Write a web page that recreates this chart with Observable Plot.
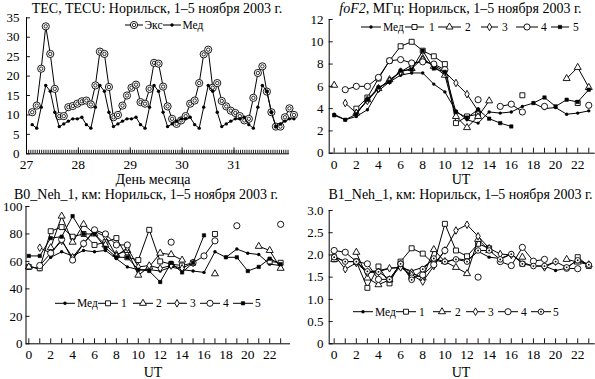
<!DOCTYPE html>
<html><head><meta charset="utf-8">
<script src="https://cdn.jsdelivr.net/npm/d3@7"></script>
<script src="https://cdn.jsdelivr.net/npm/@observablehq/plot@0.6"></script>
<style>
body{margin:0;background:#fff;}
#root{position:relative;width:595px;height:379px;overflow:hidden;background:#fff;}
#root svg{position:absolute;}
</style></head><body><div id="root"></div>
<script>
// ---------- DATA ----------
// TEC panel: 2-hour samples, starting day 27.11
const tecStart = 27.11, tecStep = 0.087;
const tecExc = [10.7,12.4,21.9,32.8,25.7,16.7,9.7,9.7,12.0,12.3,12.9,13.5,13.7,12.7,17.6,26.3,25.7,17.2,9.4,10.0,12.4,15.0,17.0,17.8,13.3,12.9,16.7,23.4,23.2,17.3,12.2,9.0,7.7,8.6,9.7,12.9,13.7,18.2,25.6,26.8,17.0,18.2,13.6,12.2,11.1,10.5,9.7,8.6,9.0,14.4,20.8,22.5,16.0,10.7,7.0,7.0,9.4,11.7,10.0];
const tecMed = [7.5,6.6,12.0,17.6,16.1,10.7,7.0,7.7,8.4,9.0,9.0,9.4,
                7.5,6.6,12.0,17.6,16.1,10.7,7.0,7.7,8.4,9.0,9.0,9.4,
                7.5,6.6,12.0,17.6,16.1,10.7,7.0,7.7,8.4,9.0,9.0,9.4,
                7.5,6.6,12.0,17.6,16.1,10.7,7.0,7.7,8.4,9.0,9.0,9.4,
                7.5,6.6,12.0,17.6,16.1,10.7,7.0,7.7,8.4,9.0,9.0];
const tecDayTicks = [27,28,29,30,31];
const tecYTicks = [0,5,10,15,20,25,30,35];

// UT hours
const utHours = [0,1,2,3,4,5,6,7,8,9,10,11,12,13,14,15,16,17,18,19,20,21,22,23];
const utLabels = [0,2,4,6,8,10,12,14,16,18,20,22];

// foF2, MHz
const fofMed = [3.5,3.0,3.3,3.9,5.6,6.4,7.0,7.2,7.2,6.2,5.5,3.8,3.0,2.7,3.7,3.6,3.7,4.2,4.5,4.0,4.1,3.5,3.6,3.8];
const fof1 = [null,null,4.0,5.0,6.7,8.3,9.6,10.0,9.2,8.7,8.0,2.7,3.3,3.5,null,null,null,5.2,null,null,null,null,4.5,null];
const fof2 = [6.1,null,3.6,4.8,5.8,6.6,7.3,7.6,8.5,7.8,7.0,3.3,2.3,3.3,4.7,null,null,null,null,null,null,6.7,7.7,5.9];
const fof3 = [null,4.5,3.6,4.7,5.8,6.5,7.3,7.9,8.4,7.9,7.3,6.3,5.3,3.8,null,null,null,null,null,null,null,null,null,null];
const fof4 = [null,5.7,6.0,6.0,6.8,8.3,8.4,8.1,8.2,8.0,7.5,null,null,4.8,null,4.2,4.4,3.7,null,4.2,null,null,null,4.3];
const fof5 = [3.4,3.0,3.5,4.8,5.9,6.4,7.4,7.5,9.2,7.6,7.3,3.7,3.2,3.9,3.1,2.7,2.4,null,4.5,5.0,4.2,4.8,4.6,5.7];
const fofYTicks = [0,2,4,6,8,10,12];

// B0_Neh_1, km
const b0Med = [57,54,63,67,64,68,67,68,62,56,54,54,53,56,54,53,52,67,63,69,66,65,58,57];
const b01 = [56,55,82,85,78,80,72,74,77,63,61,83,60,58,57,59,null,80,null,null,null,null,60,59];
const b02 = [56,null,70,93,74,87,80,72,65,68,50,56,66,65,61,null,null,51,null,null,null,71,68,55];
const b03 = [null,70,66,75,63,73,82,78,64,70,56,57,55,57,55,59,null,null,null,null,null,null,null,null];
const b04 = [null,57,66,76,61,73,83,80,72,72,null,null,null,74,null,59,64,75,null,86,null,null,null,87];
const b05 = [64,64,77,78,93,80,80,70,63,63,54,53,45,59,52,59,79,null,63,63,53,56,62,58];
const b0YTicks = [0,20,40,60,80,100];

// B1_Neh_1
const b1Med = [1.97,1.85,1.85,1.62,1.65,1.70,1.72,1.64,1.72,1.90,1.82,1.92,1.88,2.08,1.95,1.92,2.02,1.83,1.75,1.75,1.65,1.70,1.90,1.78];
const b11 = [1.90,null,1.85,1.26,1.74,1.36,1.85,2.15,2.03,1.80,2.70,2.10,1.97,2.25,2.15,null,null,1.80,null,null,null,null,1.95,1.75];
const b12 = [1.90,null,2.06,1.48,1.33,1.44,1.75,1.60,1.48,2.12,1.85,1.72,1.58,2.35,2.10,null,null,1.95,null,null,null,1.90,1.84,1.78];
const b13 = [2.00,1.68,1.82,1.60,1.62,1.70,1.72,1.55,1.40,1.75,2.10,2.55,2.68,2.42,2.15,2.02,2.00,null,null,1.72,1.85,null,null,null];
const b14 = [2.10,2.06,1.85,1.80,1.45,1.45,1.80,1.48,1.55,1.78,2.10,null,null,1.50,null,1.85,1.76,2.17,1.86,1.90,null,1.70,1.69,null];
const b15 = [1.95,1.85,1.85,1.63,1.62,1.45,1.80,1.44,1.68,1.92,1.85,1.90,1.85,2.10,2.10,1.90,2.02,1.80,1.75,1.75,1.85,1.72,1.88,1.78];
const b1YTicks = [0,0.5,1.0,1.5,2.0,2.5,3.0];

// ---------- STYLE ----------
const FONT = '"Liberation Serif", "Times New Roman", serif';
const SYMS = {
  med:  {parts:[{symbol:"circle", r:1.7, fill:"black", stroke:"none"}]},
  sq:   {parts:[{symbol:"square", r:2.8, fill:"white", stroke:"black", sw:0.9}]},
  tri:  {parts:[{symbol:"triangle", r:2.6, fill:"white", stroke:"black", sw:0.9}]},
  dia:  {parts:[{symbol:"diamond", r:2.3, fill:"white", stroke:"black", sw:0.9}]},
  cir:  {parts:[{symbol:"circle", r:3.1, fill:"white", stroke:"black", sw:0.9}]},
  fsq:  {parts:[{symbol:"square", r:1.9, fill:"black", stroke:"black", sw:0.6}]},
  cdot: {parts:[{symbol:"circle", r:2.8, fill:"white", stroke:"black", sw:0.9},{symbol:"circle", r:0.9, fill:"black", stroke:"none"}]},
  exc:  {parts:[{symbol:"circle", r:3.6, fill:"white", stroke:"black", sw:0.9},{symbol:"circle", r:1.7, fill:"none", stroke:"black", sw:0.8}]}
};
const d3sym = {circle:d3.symbolCircle, square:d3.symbolSquare, triangle:d3.symbolTriangle, diamond:d3.symbolDiamond};

function seriesMarks(xs, ys, sym) {
  const data = xs.map((x,i)=>({x, y: ys[i]}));
  const marks = [Plot.line(data, {x:"x", y:"y", stroke:"black", strokeWidth:1})];
  for (const p of SYMS[sym].parts) {
    marks.push(Plot.dot(data.filter(d=>d.y!=null), {x:"x", y:"y", symbol:p.symbol, r:p.r, fill:p.fill, stroke:p.stroke, strokeWidth:p.sw||1}));
  }
  return marks;
}

const root = document.getElementById("root");

function panel(cfg) {
  const {left, top, width, height, ml, mr, mt, mb, xdom, ydom} = cfg;
  const pw = width - ml - mr, ph = height - mt - mb;
  const marks = [];
  for (const s of cfg.series) marks.push(...seriesMarks(s.xs, s.ys, s.sym));
  marks.push(Plot.ruleX([xdom[0]], {stroke:"black", strokeWidth:1}));
  marks.push(Plot.ruleY([ydom[0]], {stroke:"black", strokeWidth:1}));
  marks.push(Plot.tickX(cfg.xMinor, {x:d=>d, stroke:"black", strokeWidth:0.9, insetTop: ph - cfg.minorLen}));
  marks.push(Plot.tickX(cfg.xMajor, {x:d=>d, stroke:"black", strokeWidth:0.9, insetTop: ph - cfg.majorLen}));
  marks.push(Plot.tickY(cfg.yTicks, {y:d=>d, stroke:"black", strokeWidth:0.9, insetRight: pw - 4}));
  marks.push(Plot.axisX(cfg.xLabels, {tickSize:0, tickPadding:cfg.xpad, tickFormat:cfg.xFmt||(d=>String(d)), fontSize:13.5, label:null}));
  marks.push(Plot.axisY(cfg.yTicks, {tickSize:0, tickPadding:cfg.ypad, tickFormat:cfg.yFmt||(d=>String(d)), fontSize:13, label:null}));
  const svg = Plot.plot({
    width, height, marginLeft:ml, marginRight:mr, marginTop:mt, marginBottom:mb,
    x:{domain:xdom}, y:{domain:ydom},
    style:{fontFamily:FONT, fontSize:"13.5px", background:"none", overflow:"visible", color:"black"},
    marks
  });
  svg.style.left = left + "px";
  svg.style.top = top + "px";
  root.appendChild(svg);
}

const tecX = tecExc.map((_,i)=> tecStart + i*tecStep);
const tecMinor = d3.range(27, 32.07, 1/24);

panel({left:0, top:0, width:298, height:190, ml:26, mr:9, mt:17.3, mb:36.7,
  xdom:[27,32.07], ydom:[0,35],
  series:[{xs:tecX, ys:tecExc, sym:"exc"},{xs:tecX, ys:tecMed, sym:"med"}],
  xMinor:tecMinor, xMajor:tecDayTicks, minorLen:3.5, majorLen:6,
  yTicks:tecYTicks, xLabels:tecDayTicks, xpad:5.5, ypad:7});

panel({left:298, top:0, width:297, height:190, ml:30.7, mr:0.3, mt:19, mb:37.3,
  xdom:[-0.45,23.58], ydom:[0,12],
  series:[{xs:utHours,ys:fofMed,sym:"med"},{xs:utHours,ys:fof1,sym:"sq"},{xs:utHours,ys:fof2,sym:"tri"},
          {xs:utHours,ys:fof3,sym:"dia"},{xs:utHours,ys:fof4,sym:"cir"},{xs:utHours,ys:fof5,sym:"fsq"}],
  xMinor:utHours, xMajor:[], minorLen:5, majorLen:5,
  yTicks:fofYTicks, xLabels:utLabels, xpad:6, ypad:5.7});

panel({left:0, top:190, width:298, height:189, ml:25.5, mr:8, mt:16, mb:35.7,
  xdom:[-0.256,23.9], ydom:[0,100],
  series:[{xs:utHours,ys:b0Med,sym:"med"},{xs:utHours,ys:b01,sym:"sq"},{xs:utHours,ys:b02,sym:"tri"},
          {xs:utHours,ys:b03,sym:"dia"},{xs:utHours,ys:b04,sym:"cir"},{xs:utHours,ys:b05,sym:"fsq"}],
  xMinor:utHours, xMajor:[], minorLen:5, majorLen:5,
  yTicks:b0YTicks, xLabels:utLabels, xpad:5.5, ypad:3.5});

panel({left:298, top:190, width:297, height:189, ml:30.7, mr:0.3, mt:20, mb:35.7,
  xdom:[-0.45,23.58], ydom:[0,3],
  series:[{xs:utHours,ys:b1Med,sym:"med"},{xs:utHours,ys:b11,sym:"sq"},{xs:utHours,ys:b12,sym:"tri"},
          {xs:utHours,ys:b13,sym:"dia"},{xs:utHours,ys:b14,sym:"cir"},{xs:utHours,ys:b15,sym:"cdot"}],
  xMinor:utHours, xMajor:[], minorLen:5, majorLen:5,
  yTicks:b1YTicks, xLabels:utLabels, xpad:5.5, ypad:5.7,
  yFmt:d=> d===0 ? "0" : d.toFixed(1)});

// ---------- OVERLAY: titles, axis names, legends ----------
const ov = d3.select(root).append("svg").attr("width",595).attr("height",379)
  .style("left","0px").style("top","0px").style("pointer-events","none")
  .style("font-family", FONT);

function text(x, y, str, size, anchor="middle") {
  return ov.append("text").attr("x",x).attr("y",y).attr("text-anchor",anchor)
    .attr("font-size",size).attr("fill","black").text(str);
}
text(157, 12.5, "TEC, TECU: Норильск, 1–5 ноября 2003 г.", 14);
const t2 = ov.append("text").attr("x",460.5).attr("y",12.5).attr("text-anchor","middle").attr("font-size",14);
t2.append("tspan").attr("font-style","italic").text("foF2");
t2.append("tspan").text(", МГц: Норильск, 1–5 ноября 2003 г.");
text(146, 198.5, "B0_Neh_1, км: Норильск, 1–5 ноября 2003 г.", 14);
text(460.5, 198.5, "B1_Neh_1, км: Норильск, 1–5 ноября 2003 г.", 14);
text(153, 184, "День месяца", 14);
text(461, 184, "UT", 14);
text(153, 376.5, "UT", 14);
text(461, 376.5, "UT", 14);

function legendSymbol(cx, cy, sym) {
  for (const p of SYMS[sym].parts) {
    ov.append("path").attr("transform",`translate(${cx},${cy})`)
      .attr("d", d3.symbol(d3sym[p.symbol], p.r*p.r*Math.PI)())
      .attr("fill", p.fill).attr("stroke", p.stroke).attr("stroke-width", p.sw||1);
  }
}
function legend(y, items) {
  for (const it of items) {
    ov.append("line").attr("x1",it.x1).attr("x2",it.x2).attr("y1",y).attr("y2",y)
      .attr("stroke","black").attr("stroke-width",1);
    legendSymbol((it.x1+it.x2)/2, y, it.sym);
    text(it.tx, y+4, it.label, 11.5, "start");
  }
}
legend(25, [
  {x1:125, x2:143, sym:"exc", label:"Экс", tx:144.5},
  {x1:163, x2:181, sym:"med", label:"Мед", tx:182.5}
]);
legend(27, [
  {x1:361, x2:381, sym:"med", label:"Мед", tx:383},
  {x1:405, x2:424, sym:"sq", label:"1", tx:429},
  {x1:438, x2:461, sym:"tri", label:"2", tx:465},
  {x1:481, x2:498, sym:"dia", label:"3", tx:502},
  {x1:516, x2:538, sym:"cir", label:"4", tx:541},
  {x1:551, x2:569, sym:"fsq", label:"5", tx:573}
]);
legend(303.3, [
  {x1:55, x2:75, sym:"med", label:"Мед", tx:77},
  {x1:98, x2:118, sym:"sq", label:"1", tx:121},
  {x1:133, x2:153, sym:"tri", label:"2", tx:156},
  {x1:167, x2:187, sym:"dia", label:"3", tx:190},
  {x1:200, x2:220, sym:"cir", label:"4", tx:223},
  {x1:233, x2:253, sym:"fsq", label:"5", tx:255}
]);
legend(311.7, [
  {x1:353, x2:373, sym:"med", label:"Мед", tx:375},
  {x1:396, x2:416, sym:"sq", label:"1", tx:419},
  {x1:433, x2:451, sym:"tri", label:"2", tx:455},
  {x1:466, x2:485, sym:"dia", label:"3", tx:488},
  {x1:498, x2:518, sym:"cir", label:"4", tx:521},
  {x1:531, x2:551, sym:"cdot", label:"5", tx:553}
]);
</script></body></html>
